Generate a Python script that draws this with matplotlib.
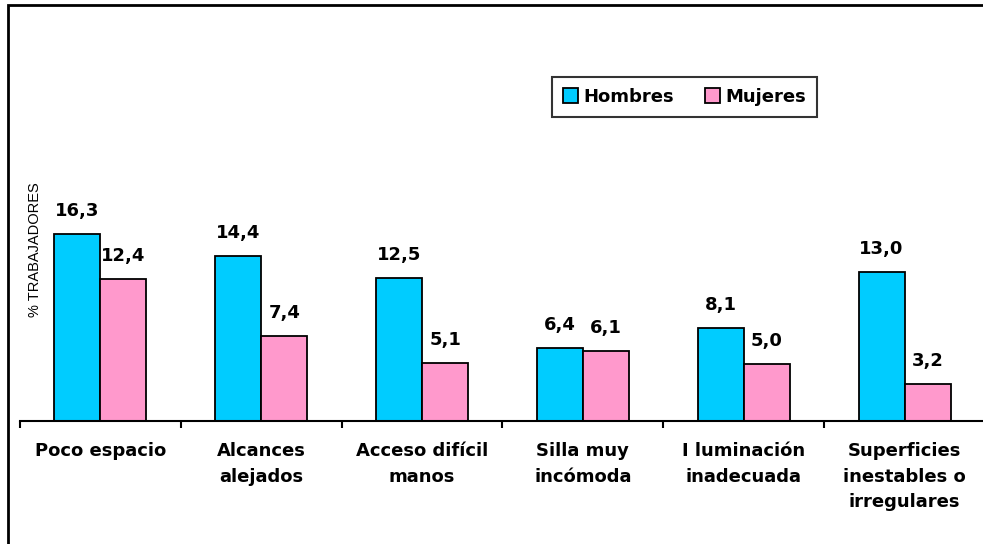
import numpy as np
import matplotlib.pyplot as plt
from matplotlib.patches import Rectangle

# Data
categorias = ['Poco espacio', 'Alcances\nalejados', 'Acceso difícil\nmanos', 'Silla muy\nincómoda',
	'I luminación\ninadecuada', 'Superficies\ninestables o\nirregulares']
hombres = [16.3, 14.4, 12.5, 6.4, 8.1, 13.0]
mujeres = [12.4, 7.4, 5.1, 6.1, 5.0, 3.2]
series_names = ['Hombres', 'Mujeres']

c_h = '#00ccff'
c_m = '#ff99cc'

fig = plt.figure(figsize=(9.83, 5.44), dpi=100)

# Outer frame (cut off on the right and bottom)
fig.patches.append(Rectangle((8/983, -0.05), 1.2, (544-5)/544 + 0.05, transform=fig.transFigure,
	fill=False, edgecolor='black', linewidth=2))

ax = fig.add_axes([20/983, 123/544, 965/983, 30*11.47/544])
x = np.arange(len(categorias))
w = 0.286
b1 = ax.bar(x - w/2, hombres, w, color=c_h, edgecolor='black', linewidth=1.3, label=series_names[0])
b2 = ax.bar(x + w/2, mujeres, w, color=c_m, edgecolor='black', linewidth=1.3, label=series_names[1])

for bars, vals in [(b1, hombres), (b2, mujeres)]:
	for r, v in zip(bars, vals):
		ax.annotate(('%.1f' % v).replace('.', ','), (r.get_x() + r.get_width()/2, v),
			xytext=(0, 10), textcoords='offset points', ha='center', va='bottom',
			fontsize=13, fontweight='bold')

ax.set_xlim(-0.5, len(categorias) - 0.5)
ax.set_ylim(0, 30)
for s in ['top', 'right', 'left']:
	ax.spines[s].set_visible(False)
ax.spines['bottom'].set_linewidth(1.5)
ax.set_yticks([])
ax.set_xticks(np.arange(len(categorias) + 1) - 0.5)
ax.set_xticklabels([])
ax.tick_params(axis='x', direction='out', length=5, width=1.5)
ax.set_xticks(x, minor=True)
ax.set_xticklabels(categorias, minor=True, fontsize=13, fontweight='bold', linespacing=1.55, va='top')
ax.tick_params(axis='x', which='minor', length=0, pad=15)

fig.text(35/983, 1 - 250/544, '% TRABAJADORES', rotation=90, ha='center', va='center',
	fontsize=10.5, family='Liberation Sans')

leg = ax.legend(loc='upper left', bbox_to_anchor=(552/983, 1 - 77/544), bbox_transform=fig.transFigure,
	ncol=2, frameon=True, fancybox=False, edgecolor='black',
	prop={'weight': 'bold', 'size': 13}, handlelength=0.85, handleheight=0.85, handletextpad=0.3,
	columnspacing=1.7, borderpad=0.6, borderaxespad=0)
leg.get_frame().set_linewidth(1.5)

plt.savefig('out.png', dpi=100)
